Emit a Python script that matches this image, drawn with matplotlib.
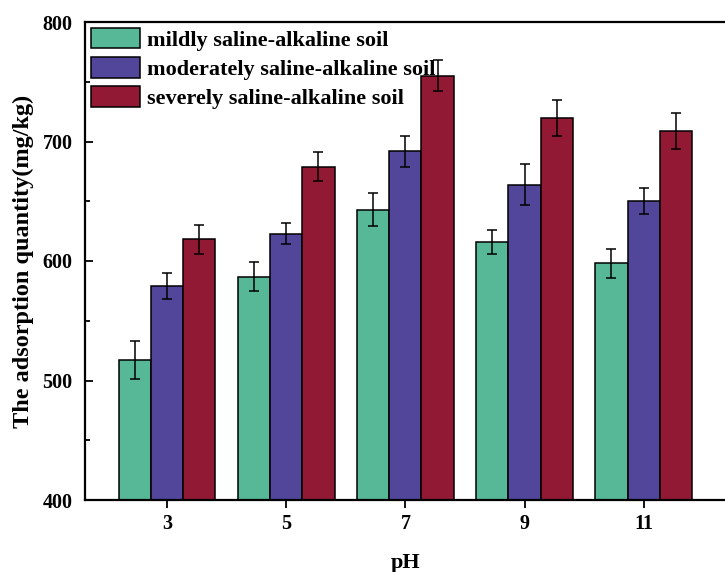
import numpy as np
import matplotlib.pyplot as plt

plt.rcParams['font.family'] = 'Liberation Serif'
plt.rcParams['font.weight'] = 'bold'

ph = [3, 5, 7, 9, 11]
mild = [517, 587, 643, 616, 598]
mild_err = [16, 12, 14, 10, 12]
moderate = [579, 623, 692, 664, 650]
moderate_err = [11, 9, 13, 17, 11]
severe = [618, 679, 755, 720, 709]
severe_err = [12, 12, 13, 15, 15]

labels = ['mildly saline-alkaline soil',
          'moderately saline-alkaline soil',
          'severely saline-alkaline soil']
colors = ['#56B896', '#52469B', '#921934']

fig = plt.figure(figsize=(7.25, 5.72), dpi=100)
ax = fig.add_axes([85 / 725, 72 / 572, 642 / 725, 478 / 572])

x = np.array(ph, dtype=float)
w = 0.54
series = [(mild, mild_err), (moderate, moderate_err), (severe, severe_err)]
for i, (vals, errs) in enumerate(series):
    ax.bar(x + (i - 1) * w, vals, width=w, color=colors[i], edgecolor='black',
           linewidth=1.1, label=labels[i], zorder=2)
    ax.errorbar(x + (i - 1) * w, vals, yerr=errs, fmt='none', ecolor='black',
                elinewidth=1.1, capsize=3.6, capthick=1.1, zorder=3)

ax.set_xlim(1.62, 12.4)
ax.set_ylim(400, 800)
ax.set_xticks(ph)
ax.set_yticks([400, 500, 600, 700, 800])
ax.set_yticks([450, 550, 650, 750], minor=True)

for s in ax.spines.values():
    s.set_linewidth(1.6)

ax.tick_params(axis='x', direction='out', length=6, width=1.3, labelsize=14.5, pad=4)
ax.tick_params(axis='y', which='major', direction='in', length=6, width=1.3,
               labelsize=14.5, pad=9)
ax.tick_params(axis='y', which='minor', direction='in', length=3.5, width=1.3)

ax.set_xlabel('pH', fontsize=16, fontweight='bold', labelpad=14)
ax.set_ylabel('The adsorption quantity(mg/kg)', fontsize=17.5, fontweight='bold',
              labelpad=6)

ax.legend(loc='upper left', frameon=False, fontsize=16, handlelength=2.2,
          handleheight=1.04, labelspacing=0.28, handletextpad=0.32,
          borderaxespad=0.05, borderpad=0.22)

fig.savefig('out.png', dpi=100)
